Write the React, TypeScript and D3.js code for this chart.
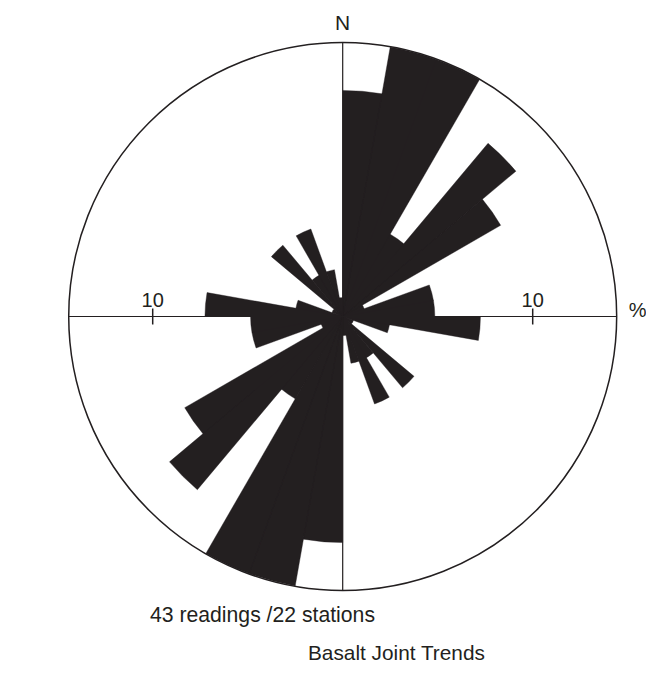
// @ts-nocheck
import * as d3 from 'd3';
import React, { useEffect, useRef } from 'react';

// bin start azimuths (deg, clockwise from N), 10 degree bins, 0-180
const binStarts = [0, 10, 20, 30, 40, 50, 60, 70, 80, 90, 100, 110, 120, 130, 140, 150, 160, 170];
// percent of readings per bin (rose is bidirectional: 180-360 mirrors these)
const binPercent = [11.9, 14.4, 14.4, 5.0, 11.9, 9.6, 1.2, 4.85, 4.85, 7.25, 2.5, 0.6, 0.6, 4.9, 2.5, 4.9, 2.5, 1.0];
const tickValues = [10];
const outerPercent = 14.42;
const title = 'Basalt Joint Trends';
const note = '43 readings /22 stations';

const INK = '#231f20';
const FONT = '"Liberation Sans", Arial, Helvetica, sans-serif';

export default function App() {
  const svgRef = useRef<SVGSVGElement>(null);
  const width = 646;
  const height = 693;

  useEffect(() => {
    const svg = d3.select(svgRef.current);
    svg.selectAll('*').remove();

    const cx = 342.7;
    const cy = 316.5;
    const r = d3.scaleLinear().domain([0, 10]).range([0, 190]);
    const R = r(outerPercent);

    const g = svg.append('g').attr('transform', `translate(${cx},${cy})`);

    // petals, mirrored for opposite direction
    const bins = [];
    binStarts.forEach((a, i) => {
      bins.push({ start: a, value: binPercent[i] });
      bins.push({ start: a + 180, value: binPercent[i] });
    });

    const arc = d3
      .arc()
      .innerRadius(0)
      .outerRadius(d => Math.min(r(d.value), R))
      .startAngle(d => (d.start * Math.PI) / 180)
      .endAngle(d => ((d.start + 10) * Math.PI) / 180);

    // one path so neighbouring wedges don't show seams
    g.append('path')
      .attr('class', 'petals')
      .attr('d', bins.map(d => arc(d)).join(''))
      .attr('fill', INK)
      .attr('stroke', INK)
      .attr('stroke-width', 0.4)
      .attr('stroke-linejoin', 'bevel');

    // outer circle
    g.append('circle')
      .attr('r', R)
      .attr('fill', 'none')
      .attr('stroke', INK)
      .attr('stroke-width', 1.5);

    // N-S and E-W lines
    g.append('line')
      .attr('x1', 0).attr('x2', 0)
      .attr('y1', -R).attr('y2', R)
      .attr('stroke', INK)
      .attr('stroke-width', 1.2);
    g.append('line')
      .attr('x1', -R).attr('x2', R)
      .attr('y1', 0).attr('y2', 0)
      .attr('stroke', INK)
      .attr('stroke-width', 1.2);

    // scale ticks
    tickValues.forEach(t => {
      [-1, 1].forEach(s => {
        const x = s * r(t);
        g.append('line')
          .attr('x1', x).attr('x2', x)
          .attr('y1', -8).attr('y2', 8)
          .attr('stroke', INK)
          .attr('stroke-width', 1.5);
        g.append('text')
          .attr('x', x)
          .attr('y', -10)
          .attr('text-anchor', 'middle')
          .style('font-family', FONT)
          .style('font-size', '20px')
          .style('fill', INK)
          .text(t);
      });
    });

    g.append('text')
      .attr('x', R + 12)
      .attr('y', 0)
      .style('font-family', FONT)
      .style('font-size', '20px')
      .style('fill', INK)
      .text('%');

    g.append('text')
      .attr('x', 0)
      .attr('y', -R - 13)
      .attr('text-anchor', 'middle')
      .style('font-family', FONT)
      .style('font-size', '21px')
      .style('fill', INK)
      .text('N');

    svg.append('text')
      .attr('x', 150)
      .attr('y', 622)
      .style('font-family', FONT)
      .style('font-size', '21.2px')
      .style('fill', INK)
      .text(note);

    svg.append('text')
      .attr('x', 308)
      .attr('y', 660)
      .style('font-family', FONT)
      .style('font-size', '20.8px')
      .style('fill', INK)
      .text(title);
  }, []);

  return (
    <svg
      ref={svgRef}
      width={width}
      height={height}
      style={{ position: 'absolute', left: 0, top: 0, background: '#ffffff', display: 'block' }}
    />
  );
}
